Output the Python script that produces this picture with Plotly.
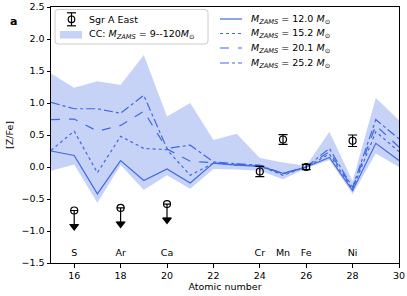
import plotly.graph_objects as go

# ---------------- data ----------------
Z = list(range(15, 31))
band_lo = [-0.06, 0.04, -0.56, 0.03, -0.36, -0.13, -0.34, -0.03, -0.04, -0.06, -0.19, -0.02, 0.11, -0.42, 0.21, 0.00]
band_hi = [1.46, 1.24, 1.34, 1.28, 1.75, 0.79, 1.00, 0.42, 0.52, 0.14, 0.07, 0.02, 0.55, -0.22, 1.08, 0.73]

m12 = [0.25, 0.18, -0.42, 0.10, -0.21, -0.03, -0.25, 0.06, 0.03, 0.01, -0.10, 0.0, 0.15, -0.37, 0.37, 0.10]
m15 = [0.26, 0.56, -0.09, 0.48, 0.29, 0.27, -0.13, 0.06, 0.03, 0.02, -0.13, 0.0, 0.20, -0.35, 0.55, 0.24]
m20 = [0.74, 0.75, 0.56, 0.65, 0.87, 0.28, 0.09, 0.07, 0.04, 0.02, -0.10, 0.0, 0.24, -0.33, 0.65, 0.31]
m25 = [1.01, 0.91, 0.91, 0.84, 1.12, 0.29, 0.34, 0.08, 0.05, 0.03, -0.11, 0.0, 0.29, -0.32, 0.74, 0.44]
model_masses = ["12.0", "15.2", "20.1", "25.2"]
model_dashes = ["solid", "dot", "dash", "dashdot"]

obs_Z = [24, 25, 26, 28]
obs_val = [-0.07, 0.43, 0.0, 0.41]
obs_err = [0.08, 0.075, 0.04, 0.09]

uplim_Z = [16, 18, 20]
uplim_val = [-0.68, -0.64, -0.58]

elem_Z = [16, 18, 20, 24, 25, 26, 28]
elem_names = ["S", "Ar", "Ca", "Cr", "Mn", "Fe", "Ni"]

x_ticks = [16, 18, 20, 22, 24, 26, 28, 30]
y_ticks = [-1.5, -1.0, -0.5, 0.0, 0.5, 1.0, 1.5, 2.0, 2.5]

# ---------------- style ----------------
BLUE = "rgb(65,105,225)"
BAND = "rgba(65,105,225,0.3)"
FONT = "DejaVu Sans"
FS = 9.5
ARROW_LEN = 0.22
LABEL_Y = -1.35

W, H = 407, 296
ML, MR, MT, MB = 51, 8, 7, 33
PW, PH = W - ML - MR, H - MT - MB


def px(xp):
    return (xp - ML) / PW


def py(yp):
    return (H - MB - yp) / PH


def mlabel(mass):
    return f"<i>M</i><sub><i>ZAMS</i></sub> = {mass} <i>M</i><sub>⊙</sub>"


fig = go.Figure()

# CC band
fig.add_trace(go.Scatter(x=Z, y=band_lo, mode="lines", line=dict(width=0, color=BAND),
                         showlegend=False, hoverinfo="skip"))
fig.add_trace(go.Scatter(x=Z, y=band_hi, mode="lines", line=dict(width=0, color=BAND),
                         fill="tonexty", fillcolor=BAND, showlegend=False,
                         name="CC: M_ZAMS = 9--120 Msun"))

# model lines
for vals, mass, dash in zip([m12, m15, m20, m25], model_masses, model_dashes):
    fig.add_trace(go.Scatter(x=Z, y=vals, mode="lines", line=dict(color=BLUE, width=1.2, dash=dash),
                             showlegend=False, name=f"M_ZAMS = {mass} Msun"))

# observed points
fig.add_trace(go.Scatter(x=obs_Z, y=obs_val, mode="markers",
                         marker=dict(symbol="circle-open", size=7, color="black", line=dict(width=1.2)),
                         error_y=dict(type="data", array=obs_err, color="black", thickness=1.2, width=4.5),
                         showlegend=False, name="Sgr A East"))

# upper limits
fig.add_trace(go.Scatter(x=uplim_Z, y=uplim_val, mode="markers",
                         marker=dict(symbol="circle-open", size=7, color="black", line=dict(width=1.2)),
                         error_y=dict(type="data", symmetric=False, array=[0] * len(uplim_val),
                                      arrayminus=[ARROW_LEN] * len(uplim_val),
                                      color="black", thickness=1.2, width=4),
                         showlegend=False))
fig.add_trace(go.Scatter(x=uplim_Z, y=[v - ARROW_LEN - 0.03 for v in uplim_val], mode="markers",
                         marker=dict(symbol="triangle-down", size=9, color="black"),
                         showlegend=False))

# element labels
fig.add_trace(go.Scatter(x=elem_Z, y=[LABEL_Y] * len(elem_Z), mode="text", text=elem_names,
                         textfont=dict(family=FONT, size=FS, color="black"),
                         textposition="middle center", showlegend=False))

# ---------------- manual legends ----------------
shapes = []
annots = []
# legend 1 box (rounded)
bx0, bx1, by0, by1 = px(55), px(208), py(44), py(9.5)
rx, ry = 3 / PW, 3 / PH
path = (f"M {bx0+rx},{by1} L {bx1-rx},{by1} Q {bx1},{by1} {bx1},{by1-ry} "
        f"L {bx1},{by0+ry} Q {bx1},{by0} {bx1-rx},{by0} "
        f"L {bx0+rx},{by0} Q {bx0},{by0} {bx0},{by0+ry} "
        f"L {bx0},{by1-ry} Q {bx0},{by1} {bx0+rx},{by1} Z")
shapes.append(dict(type="path", path=path, xref="paper", yref="paper",
                   fillcolor="rgba(255,255,255,0.8)", line=dict(color="#cccccc", width=1), layer="above"))
# errorbar symbol
cx, cy = 71.5, 19.3
shapes.append(dict(type="line", xref="paper", yref="paper", x0=px(cx), x1=px(cx), y0=py(cy - 6.5), y1=py(cy + 6.5),
                   line=dict(color="black", width=1.2), layer="above"))
for dy in (-6.5, 6.5):
    shapes.append(dict(type="line", xref="paper", yref="paper", x0=px(cx - 4.5), x1=px(cx + 4.5),
                       y0=py(cy + dy), y1=py(cy + dy), line=dict(color="black", width=1.2), layer="above"))
shapes.append(dict(type="circle", xref="paper", yref="paper", x0=px(cx - 3.3), x1=px(cx + 3.3),
                   y0=py(cy + 3.3), y1=py(cy - 3.3), line=dict(color="black", width=1.2),
                   fillcolor="rgba(0,0,0,0)", layer="above"))
# band patch
shapes.append(dict(type="rect", xref="paper", yref="paper", x0=px(60), x1=px(82), y0=py(38.5), y1=py(31),
                   fillcolor=BAND, line=dict(width=0), layer="above"))
annots.append(dict(text="Sgr A East", x=px(87), y=py(19.3)))
annots.append(dict(text="CC: <i>M</i><sub><i>ZAMS</i></sub> = 9--120<i>M</i><sub>⊙</sub>", x=px(87), y=py(34.5)))

# legend 2
rows = [19, 33.5, 48, 63]
for yy, mass, dash in zip(rows, model_masses, model_dashes):
    shapes.append(dict(type="line", xref="paper", yref="paper", x0=px(220), x1=px(242), y0=py(yy), y1=py(yy),
                       line=dict(color=BLUE, width=1.2, dash=dash), layer="above"))
    annots.append(dict(text=mlabel(mass), x=px(249), y=py(yy)))

for a in annots:
    fig.add_annotation(xref="paper", yref="paper", xanchor="left", yanchor="middle", showarrow=False,
                       font=dict(family=FONT, size=FS, color="black"), **a)

fig.add_annotation(text="<b>a</b>", xref="paper", yref="paper", x=px(13), y=py(21),
                   xanchor="center", yanchor="middle", showarrow=False,
                   font=dict(family=FONT, size=11, color="black"))

axis_common = dict(showline=True, mirror=True, linecolor="black", linewidth=1,
                   ticks="outside", ticklen=3.5, tickwidth=1, tickcolor="black",
                   showgrid=False, zeroline=False,
                   tickfont=dict(family=FONT, size=FS, color="black"))

fig.update_layout(
    width=W, height=H,
    margin=dict(l=ML, r=MR, t=MT, b=MB, autoexpand=False),
    plot_bgcolor="white", paper_bgcolor="white",
    font=dict(family=FONT, size=FS, color="black"),
    showlegend=False,
    shapes=shapes,
    xaxis=dict(range=[15, 30], tickvals=x_ticks,
               title=dict(text="Atomic number", standoff=3, font=dict(family=FONT, size=FS)),
               **axis_common),
    yaxis=dict(range=[-1.5, 2.5], tickvals=y_ticks, tickformat=".1f",
               title=dict(text="[Z/Fe]", standoff=6, font=dict(family=FONT, size=FS)),
               **axis_common),
)

fig.write_html("out.html", config={"displayModeBar": False},
               post_script="document.body.style.margin='0';")
